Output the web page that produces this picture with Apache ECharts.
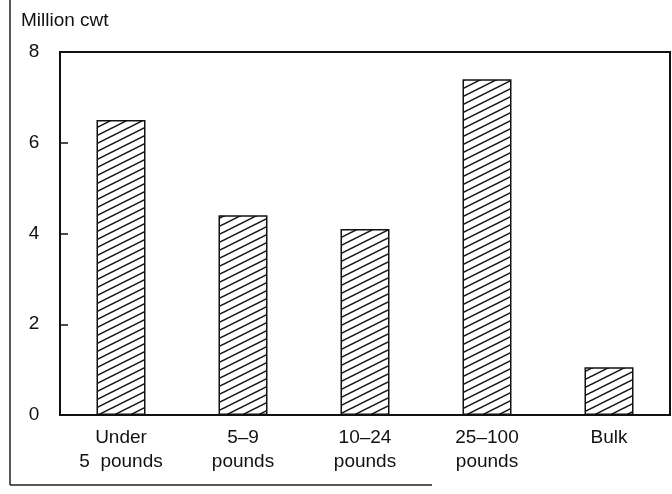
<!DOCTYPE html>
<html>
<head>
<meta charset="utf-8">
<script src="https://cdn.jsdelivr.net/npm/echarts@6/dist/echarts.min.js"></script>
<style>
  html, body { margin: 0; padding: 0; background: #fff; }
  #chart { width: 672px; height: 494px; }
</style>
</head>
<body>
<div id="chart"></div>
<script>
// package size categories
const categories = ['Under\n5  pounds', '5\u20139\npounds', '10\u201324\npounds', '25\u2013100\npounds', 'Bulk'];
// million cwt
const volumes = [6.5, 4.4, 4.1, 7.4, 1.05];
const yTicks = [0, 2, 4, 6, 8];

// diagonal hatch fill like the printed figure
function makeHatch() {
  const w = 16, h = 8;
  const c = document.createElement('canvas');
  c.width = w;
  c.height = h;
  const ctx = c.getContext('2d');
  ctx.fillStyle = '#fff';
  ctx.fillRect(0, 0, w, h);
  ctx.strokeStyle = '#111';
  ctx.lineWidth = 1.5;
  for (let dx = -1; dx <= 1; dx++) {
    for (let dy = -1; dy <= 1; dy++) {
      ctx.beginPath();
      ctx.moveTo(dx * w, h + dy * h);
      ctx.lineTo(w + dx * w, dy * h);
      ctx.stroke();
    }
  }
  return c;
}

const font = '"Liberation Sans", Arial, sans-serif';
const myChart = echarts.init(document.getElementById('chart'));

const option = {
  animation: false,
  backgroundColor: '#fff',
  title: {
    text: 'Million cwt',
    left: 16,
    top: 6,
    textStyle: { fontFamily: font, fontSize: 19, fontWeight: 'normal', color: '#111' },
  },
  grid: {
    left: 60,
    right: 2,
    top: 52,
    bottom: 79,
    show: true,
    borderColor: '#111',
    borderWidth: 2,
    backgroundColor: 'transparent',
  },
  xAxis: {
    type: 'category',
    data: categories,
    axisLine: { lineStyle: { color: '#111', width: 2 } },
    axisTick: { show: false },
    axisLabel: {
      color: '#111',
      fontFamily: font,
      fontSize: 19,
      lineHeight: 24,
      margin: 11,
      interval: 0,
    },
  },
  yAxis: {
    type: 'value',
    min: yTicks[0],
    max: yTicks[yTicks.length - 1],
    interval: 2,
    splitLine: { show: false },
    axisLine: { show: true, lineStyle: { color: '#111', width: 2 } },
    axisTick: { show: true, inside: true, length: 8, lineStyle: { color: '#111', width: 1.5 } },
    axisLabel: {
      color: '#111',
      fontFamily: font,
      fontSize: 19,
      margin: 26,
      align: 'center',
    },
  },
  graphic: [
    // scanned page frame
    { type: 'line', shape: { x1: 10, y1: 0, x2: 10, y2: 485 }, style: { stroke: '#222', lineWidth: 1.5 } },
    { type: 'line', shape: { x1: 10, y1: 485, x2: 432, y2: 485 }, style: { stroke: '#222', lineWidth: 1.5 } },
  ],
  series: [
    {
      type: 'bar',
      data: volumes,
      barWidth: 49,
      itemStyle: {
        color: { image: makeHatch(), repeat: 'repeat' },
        borderColor: '#111',
        borderWidth: 1.5,
      },
    },
  ],
};

myChart.setOption(option);
</script>
</body>
</html>
